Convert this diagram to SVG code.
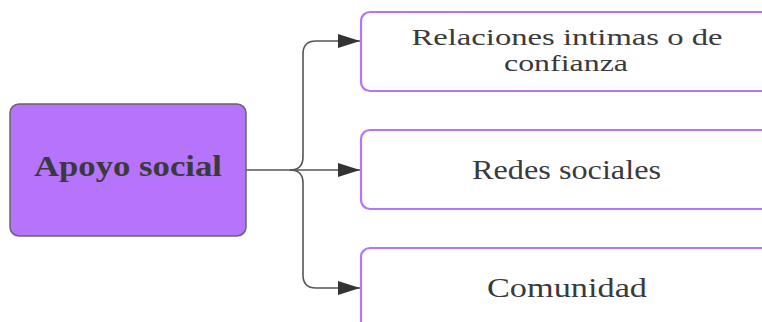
<svg xmlns="http://www.w3.org/2000/svg" width="762" height="322" viewBox="0 0 762 322">
  <style>
    .label { font-family: "Liberation Serif", "DejaVu Serif", serif; fill: #3a3a3a; text-anchor: middle; }
    .leaf { fill: #ffffff; stroke: #b574fb; stroke-width: 2.2; }
    .root { fill: #b574fb; stroke: #666666; stroke-width: 1.5; }
    .wire { fill: none; stroke: #555555; stroke-width: 1.6; }
  </style>
  <defs>
    <marker id="arrow" viewBox="0 0 22 14" refX="22" refY="7" markerWidth="22" markerHeight="14" markerUnits="userSpaceOnUse" orient="auto">
      <path d="M0,0 L22,7 L0,14 z" fill="#333333"/>
    </marker>
  </defs>
  <rect width="762" height="322" fill="#ffffff"/>

  <g id="connectors">
    <path class="wire" d="M246,170 H290 Q303,170 303,157 V54 Q303,41 316,41 H360" marker-end="url(#arrow)"/>
    <path class="wire" d="M290,170 H360" marker-end="url(#arrow)"/>
    <path class="wire" d="M290,170 Q303,170 303,183 V275 Q303,288 316,288 H360" marker-end="url(#arrow)"/>
  </g>

  <g id="apoyo-social">
    <rect class="root" x="10" y="104" width="236" height="132" rx="9"/>
    <text class="label" x="128" y="176" font-size="30" font-weight="bold" textLength="188" lengthAdjust="spacingAndGlyphs">Apoyo social</text>
  </g>

  <g id="relaciones">
    <rect class="leaf" x="361" y="12" width="412" height="79" rx="9"/>
    <text class="label" x="567" y="44.5" font-size="24" textLength="311" lengthAdjust="spacingAndGlyphs">Relaciones intimas o de</text>
    <text class="label" x="566" y="70.5" font-size="24" textLength="124" lengthAdjust="spacingAndGlyphs">confianza</text>
  </g>

  <g id="redes">
    <rect class="leaf" x="361" y="130" width="412" height="79" rx="9"/>
    <text class="label" x="566.5" y="179" font-size="28" textLength="189" lengthAdjust="spacingAndGlyphs">Redes sociales</text>
  </g>

  <g id="comunidad">
    <rect class="leaf" x="361" y="248" width="412" height="90" rx="9"/>
    <text class="label" x="567" y="296.5" font-size="28" textLength="160" lengthAdjust="spacingAndGlyphs">Comunidad</text>
  </g>
</svg>
